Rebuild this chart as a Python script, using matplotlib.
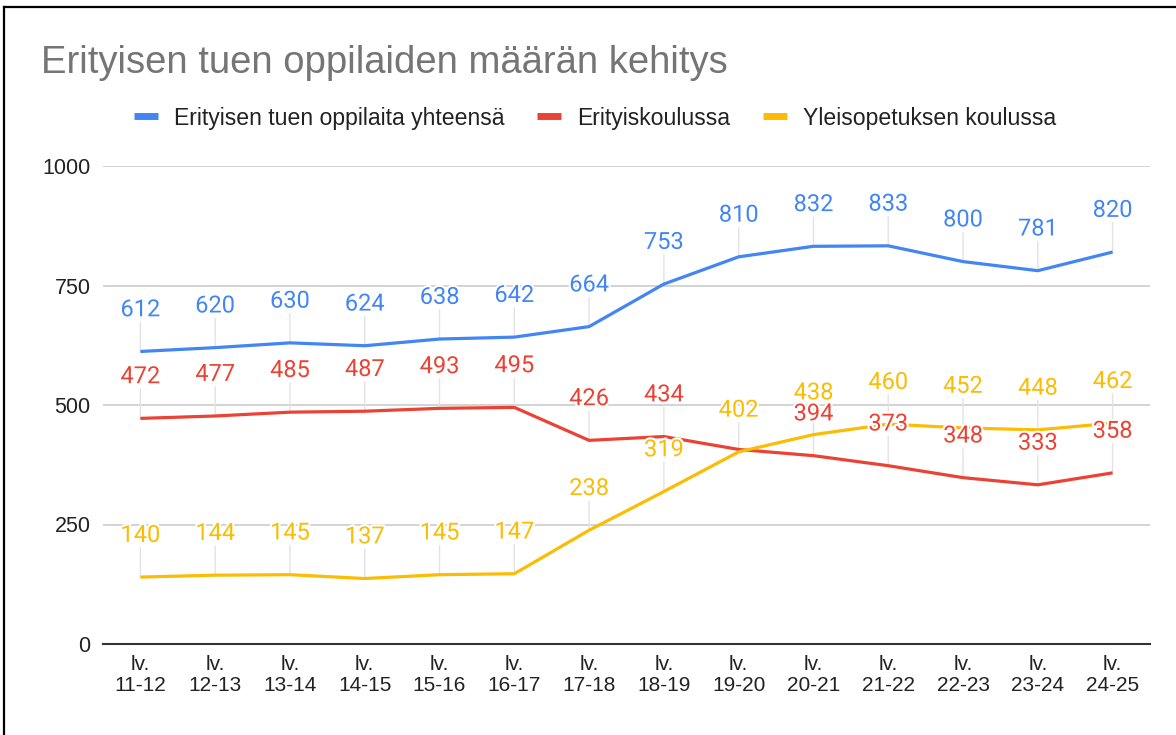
import matplotlib.pyplot as plt
import matplotlib.patheffects as pe
from matplotlib.lines import Line2D

years = ['lv.\n11-12', 'lv.\n12-13', 'lv.\n13-14', 'lv.\n14-15', 'lv.\n15-16', 'lv.\n16-17', 'lv.\n17-18',
         'lv.\n18-19', 'lv.\n19-20', 'lv.\n20-21', 'lv.\n21-22', 'lv.\n22-23', 'lv.\n23-24', 'lv.\n24-25']
total = [612, 620, 630, 624, 638, 642, 664, 753, 810, 832, 833, 800, 781, 820]
# label for 19-20 is hidden under the yellow one in the original
special_school = [472, 477, 485, 487, 493, 495, 426, 434, 407, 394, 373, 348, 333, 358]
general_school = [140, 144, 145, 137, 145, 147, 238, 319, 402, 438, 460, 452, 448, 462]
hidden_labels = [('Erityiskoulussa', 8)]

series = [
    ('Erityisen tuen oppilaita yhteensä', total, '#4285F4'),
    ('Erityiskoulussa', special_school, '#EA4335'),
    ('Yleisopetuksen koulussa', general_school, '#FBBC04'),
]

fig = plt.figure(figsize=(11.76, 7.35), dpi=100)
ax = fig.add_axes([103 / 1176, 91 / 735, (1150 - 103) / 1176, (644 - 166) / 735])

x = list(range(len(years)))
for name, vals, col in series:
    ax.plot(x, vals, color=col, linewidth=2.3, label=name, zorder=3, solid_capstyle='butt')

# leader lines first, then labels on top
for name, vals, col in series:
    for xi, v in zip(x, vals):
        if (name, xi) in hidden_labels:
            continue
        ax.annotate('', xy=(xi, v), xytext=(0, 21), textcoords='offset points',
                    arrowprops=dict(arrowstyle='-', color='#e3e3e3', lw=1, shrinkA=0, shrinkB=0),
                    zorder=2)
for name, vals, col in series:
    for xi, v in zip(x, vals):
        if (name, xi) in hidden_labels:
            continue
        ax.annotate(str(v), xy=(xi, v), xytext=(0, 30), textcoords='offset points',
                    ha='center', va='center', color=col, fontsize=17, family='Roboto',
                    path_effects=[pe.withStroke(linewidth=3, foreground='white')], zorder=4)

ax.set_xlim(-0.5, 13.5)
ax.set_ylim(0, 1000)
ax.set_yticks([0, 250, 500, 750, 1000])
ax.set_xticks(x)
ax.set_xticklabels(years, fontsize=15, color='#222222', family='Liberation Sans', linespacing=1.1)
ax.tick_params(axis='y', length=0, pad=9, labelsize=15.5, labelcolor='#222222')
ax.tick_params(axis='x', length=0, pad=8)
for lab in ax.get_yticklabels():
    lab.set_family('Liberation Sans')
ax.grid(axis='y', color='#cccccc', linewidth=1.2)
for s in ['top', 'right', 'left']:
    ax.spines[s].set_visible(False)
ax.spines['bottom'].set_color('#333333')
ax.spines['bottom'].set_linewidth(1.5)
ax.set_axisbelow(True)

fig.text(41 / 1176, 1 - 63 / 735, 'Erityisen tuen oppilaiden määrän kehitys', fontsize=27.5,
         color='#757575', family='Liberation Sans', va='center', ha='left')

handles = [Line2D([], [], color=c, linewidth=5, solid_capstyle='butt') for _, _, c in series]
fig.legend(handles, [n for n, _, _ in series], loc='center', bbox_to_anchor=(595 / 1176, 1 - 118 / 735),
           ncol=3, frameon=False, handlelength=1.04, handletextpad=0.7, columnspacing=1.4,
           prop={'family': 'Liberation Sans', 'size': 16.6}, labelcolor='#222222')

# screenshot border (left and top)
fig.add_artist(Line2D([3.5 / 1176, 3.5 / 1176], [0, 1 - 7 / 735], color='black', linewidth=1.6, transform=fig.transFigure))
fig.add_artist(Line2D([3.5 / 1176, 1], [1 - 7 / 735, 1 - 7 / 735], color='black', linewidth=1.6, transform=fig.transFigure))

fig.savefig('out.png', dpi=100, facecolor='white')
